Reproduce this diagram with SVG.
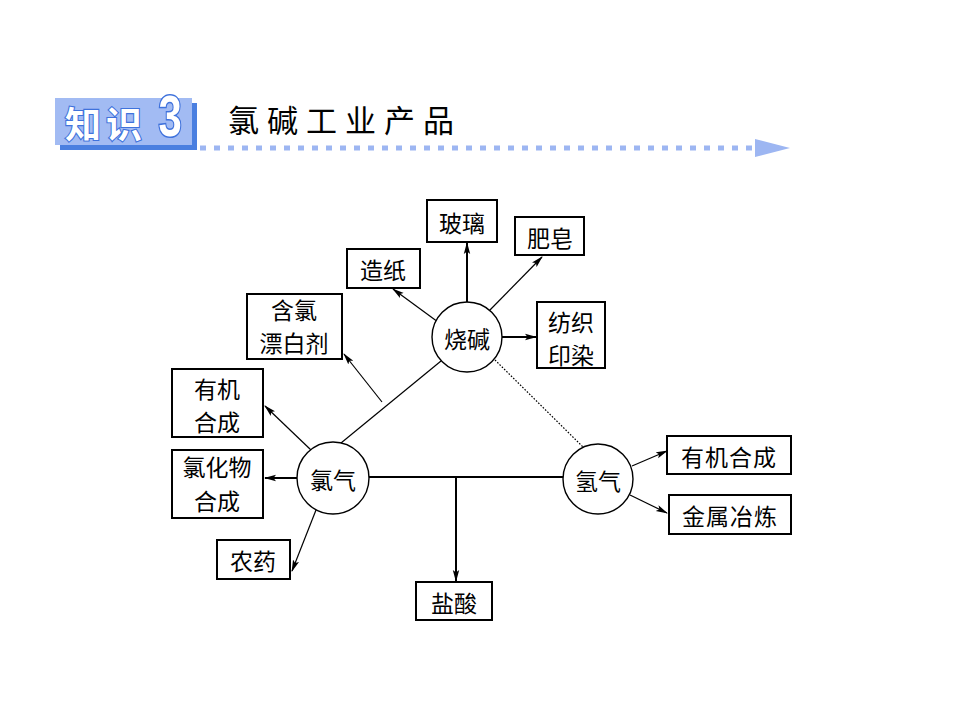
<svg xmlns="http://www.w3.org/2000/svg" width="960" height="720" viewBox="0 0 960 720">
<defs>
<style>
.box{fill:#fff;stroke:#000;stroke-width:2}
.circ{fill:#fff;stroke:#000;stroke-width:1.4}
.lbl{font-family:"Noto Sans CJK SC","Noto Sans CJK JP",sans-serif;font-size:23px;fill:#000;text-anchor:middle;dominant-baseline:central}
.ln{stroke:#000;stroke-width:1.2;fill:none}
.thick{stroke-width:2}
.arr{marker-end:url(#ah)}
.dot{stroke-dasharray:1.6 1.6;stroke-width:1.2}
</style>
<marker id="ah" viewBox="0 0 12 8" refX="11" refY="4" markerWidth="12" markerHeight="8" markerUnits="userSpaceOnUse" orient="auto">
<path d="M0,0.8 L12,4 L0,7.2 L2.5,4 Z" fill="#000"/>
</marker>
</defs>
<rect width="960" height="720" fill="#fff"/>

<g id="header">
<rect x="60" y="103" width="137" height="47" fill="#4a7fe0"/>
<rect x="55" y="98" width="137" height="47" fill="#a2bbf3"/>
<text x="106" y="138" font-family="'Noto Sans CJK SC',sans-serif" font-size="36" font-weight="bold" fill="#fff" stroke="#3f72dc" stroke-width="2.2" paint-order="stroke" text-anchor="middle" letter-spacing="5">知识</text>
<text transform="translate(170,136) scale(0.72,1)" x="0" y="0" font-family="'Liberation Sans',sans-serif" font-size="58" font-weight="bold" fill="#fff" stroke="#3f72dc" stroke-width="3" paint-order="stroke" text-anchor="middle">3</text>
<text x="228" y="132" font-family="'Noto Sans CJK SC',sans-serif" font-size="31" fill="#000" textLength="226" lengthAdjust="spacing">氯碱工业产品</text>
<line x1="200" y1="148" x2="756" y2="148" stroke="#9db6f2" stroke-width="5" stroke-dasharray="6 8"/>
<path d="M755,139 L790,148 L755,157 Z" fill="#9db6f2"/>
</g>

<g id="connectors">
<path class="ln thick arr" d="M467,303 L467,243"/>
<path class="ln arr" d="M488,312 L542,257"/>
<path class="ln thick arr" d="M502,337 L536,337"/>
<path class="ln arr" d="M438,322 L393,289"/>
<path class="ln" d="M341,443 L441,361"/>
<path class="ln arr" d="M382,402 L344,354"/>
<path class="ln dot" d="M495,360 L583,447"/>
<path class="ln arr" d="M311,450 L265,406"/>
<path class="ln thick arr" d="M297,478 L265,478"/>
<path class="ln arr" d="M316,510 L292,571"/>
<path class="ln thick" d="M369,477 L563,477"/>
<path class="ln thick arr" d="M456,477 L456,581"/>
<path class="ln arr" d="M632,466 L667,451"/>
<path class="ln arr" d="M630,495 L667,513"/>
</g>

<g id="shaojian"><circle class="circ" cx="467" cy="337" r="35"/><text class="lbl" x="467" y="338">烧碱</text></g>
<g id="lvqi"><circle class="circ" cx="333" cy="478" r="36"/><text class="lbl" x="333" y="479">氯气</text></g>
<g id="qingqi"><circle class="circ" cx="598" cy="479" r="35"/><text class="lbl" x="598" y="480">氢气</text></g>

<g id="boli"><rect class="box" x="427" y="200" width="70" height="42"/><text class="lbl" x="462" y="222">玻璃</text></g>
<g id="feizao"><rect class="box" x="515" y="217" width="69" height="38"/><text class="lbl" x="550" y="237">肥皂</text></g>
<g id="zaozhi"><rect class="box" x="347" y="249" width="73" height="39"/><text class="lbl" x="383" y="269">造纸</text></g>
<g id="piaobaiji"><rect class="box" x="247" y="294" width="95" height="65"/><text class="lbl" x="294" y="309">含氯</text><text class="lbl" x="294" y="342">漂白剂</text></g>
<g id="fangzhi"><rect class="box" x="537" y="302" width="68" height="66"/><text class="lbl" x="571" y="321">纺织</text><text class="lbl" x="571" y="354">印染</text></g>
<g id="youji1"><rect class="box" x="172" y="369" width="91" height="68"/><text class="lbl" x="217" y="388">有机</text><text class="lbl" x="217" y="421">合成</text></g>
<g id="lvhuawu"><rect class="box" x="172" y="450" width="91" height="68"/><text class="lbl" x="217" y="466">氯化物</text><text class="lbl" x="217" y="500">合成</text></g>
<g id="nongyao"><rect class="box" x="217" y="540" width="73" height="39"/><text class="lbl" x="253" y="560">农药</text></g>
<g id="yansuan"><rect class="box" x="416" y="582" width="76" height="38"/><text class="lbl" x="454" y="602">盐酸</text></g>
<g id="youji2"><rect class="box" x="667" y="436" width="124" height="38"/><text class="lbl" x="729" y="456" letter-spacing="1">有机合成</text></g>
<g id="yelian"><rect class="box" x="669" y="495" width="122" height="39"/><text class="lbl" x="730" y="515" letter-spacing="1">金属冶炼</text></g>
</svg>
